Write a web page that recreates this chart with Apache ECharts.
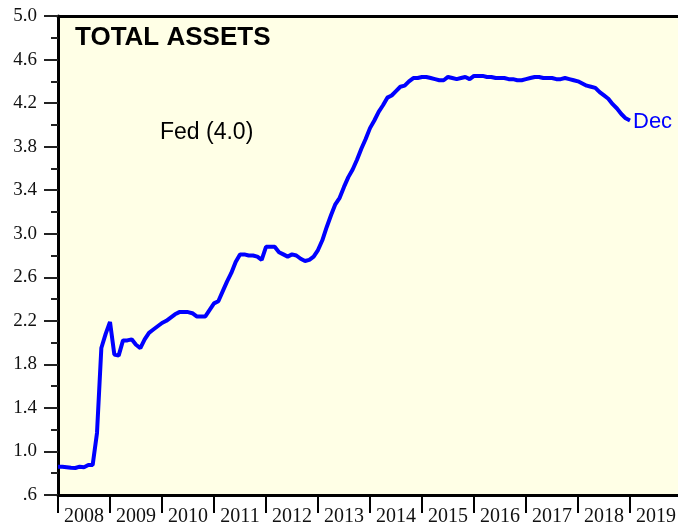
<!DOCTYPE html>
<html>
<head>
<meta charset="utf-8">
<script src="https://cdn.jsdelivr.net/npm/echarts@6/dist/echarts.min.js"></script>
<style>html,body{margin:0;padding:0;background:#fff}#c{width:678px;height:525px}</style>
</head>
<body>
<div id="c"></div>
<script>
// Fed total assets, trillions of dollars, month-end values
var startValue = 0.86; // Dec 2007
var v2008 = [0.86, 0.855, 0.85, 0.848, 0.86, 0.855, 0.875, 0.875, 1.17, 1.95, 2.08, 2.19];
var v2009 = [1.89, 1.88, 2.02, 2.02, 2.03, 1.98, 1.95, 2.03, 2.09, 2.12, 2.15, 2.18];
var v2010 = [2.20, 2.23, 2.26, 2.28, 2.28, 2.28, 2.27, 2.24, 2.24, 2.24, 2.30, 2.36];
var v2011 = [2.38, 2.47, 2.56, 2.64, 2.74, 2.81, 2.81, 2.80, 2.80, 2.79, 2.76, 2.88];
var v2012 = [2.88, 2.88, 2.83, 2.81, 2.79, 2.81, 2.80, 2.77, 2.75, 2.76, 2.79, 2.85];
var v2013 = [2.94, 3.06, 3.17, 3.27, 3.33, 3.43, 3.52, 3.59, 3.68, 3.78, 3.87, 3.97];
var v2014 = [4.04, 4.12, 4.18, 4.25, 4.27, 4.31, 4.35, 4.36, 4.40, 4.43, 4.43, 4.44];
var v2015 = [4.44, 4.43, 4.42, 4.41, 4.41, 4.44, 4.43, 4.42, 4.43, 4.44, 4.42, 4.45];
var v2016 = [4.45, 4.45, 4.44, 4.44, 4.43, 4.43, 4.43, 4.42, 4.42, 4.41, 4.41, 4.42];
var v2017 = [4.43, 4.44, 4.44, 4.43, 4.43, 4.43, 4.42, 4.42, 4.43, 4.42, 4.41, 4.40];
var v2018 = [4.38, 4.36, 4.35, 4.34, 4.30, 4.27, 4.24, 4.19, 4.15, 4.10, 4.06, 4.04];
var years = [2008, 2009, 2010, 2011, 2012, 2013, 2014, 2015, 2016, 2017, 2018, 2019];
var yLabels = [0.6, 1.0, 1.4, 1.8, 2.2, 2.6, 3.0, 3.4, 3.8, 4.2, 4.6, 5.0];
var yMinor = [0.8, 1.2, 1.6, 2.0, 2.4, 2.8, 3.2, 3.6, 4.0, 4.4, 4.8];
var titleText = 'TOTAL ASSETS';
var noteText = 'Fed (4.0)';
var endText = 'Dec';

var all = [startValue].concat(v2008, v2009, v2010, v2011, v2012, v2013, v2014, v2015, v2016, v2017, v2018);
var data = all.map(function (v, k) { return [2008 + k / 12, v]; });
var labelPos = years.map(function (y) { return y + 0.5; });

var serif = '"Liberation Serif","Times New Roman",serif';
var sans = '"Liberation Sans",Arial,sans-serif';

var chart = echarts.init(document.getElementById('c'), null, {renderer: 'canvas'});
chart.setOption({
  animation: false,
  backgroundColor: '#ffffff',
  grid: {left: 58, right: 0, top: 16, bottom: 30, show: true, backgroundColor: '#ffffe6', borderWidth: 0,
    containLabel: false, outerBoundsMode: 'none'},
  xAxis: [{
    type: 'value', min: 2008, max: 2008 + 620 / 52, position: 'bottom',
    splitLine: {show: false},
    axisLine: {show: true, onZero: false, lineStyle: {color: '#000', width: 3}},
    axisTick: {show: true, inside: false, length: 18, customValues: years, lineStyle: {color: '#000', width: 2}},
    axisLabel: {show: true, customValues: labelPos, margin: 12, color: '#111', fontFamily: serif, fontSize: 20,
      formatter: function (v) { return String(Math.floor(v)); }}
  }, {
    type: 'value', min: 2008, max: 2008 + 620 / 52, position: 'top',
    splitLine: {show: false},
    axisLine: {show: true, onZero: false, lineStyle: {color: '#000', width: 3}},
    axisTick: {show: false}, axisLabel: {show: false}
  }],
  yAxis: [{
    type: 'value', min: 0.6, max: 5.0, position: 'left',
    splitLine: {show: false},
    axisLine: {show: true, onZero: false, lineStyle: {color: '#000', width: 3}},
    axisTick: {show: true, inside: false, length: 14, customValues: yLabels, lineStyle: {color: '#222', width: 2}},
    axisLabel: {show: true, customValues: yLabels, margin: 21, color: '#111', fontFamily: serif, fontSize: 19,
      formatter: function (v) { var s = v.toFixed(1); return s.charAt(0) === '0' ? s.slice(1) : s; }}
  }, {
    type: 'value', min: 0.6, max: 5.0, position: 'left',
    splitLine: {show: false},
    axisLine: {show: false},
    axisTick: {show: true, inside: false, length: 7, customValues: yMinor, lineStyle: {color: '#222', width: 2}},
    axisLabel: {show: false}
  }],
  graphic: [
    {type: 'text', left: 75, top: 25, style: {text: titleText, font: 'bold 26px ' + sans, fill: '#000'}},
    {type: 'text', left: 160, top: 121, style: {text: noteText, font: '23px ' + sans, fill: '#000'}}
  ],
  series: [{
    type: 'line', xAxisIndex: 0, yAxisIndex: 0, data: data, showSymbol: false, symbol: 'none',
    lineStyle: {color: '#0000ff', width: 4}, clip: true,
    endLabel: {show: true, formatter: endText, color: '#0000ff', fontFamily: sans, fontSize: 22, distance: 3, offset: [0, 1]}
  }]
});
</script>
</body>
</html>
